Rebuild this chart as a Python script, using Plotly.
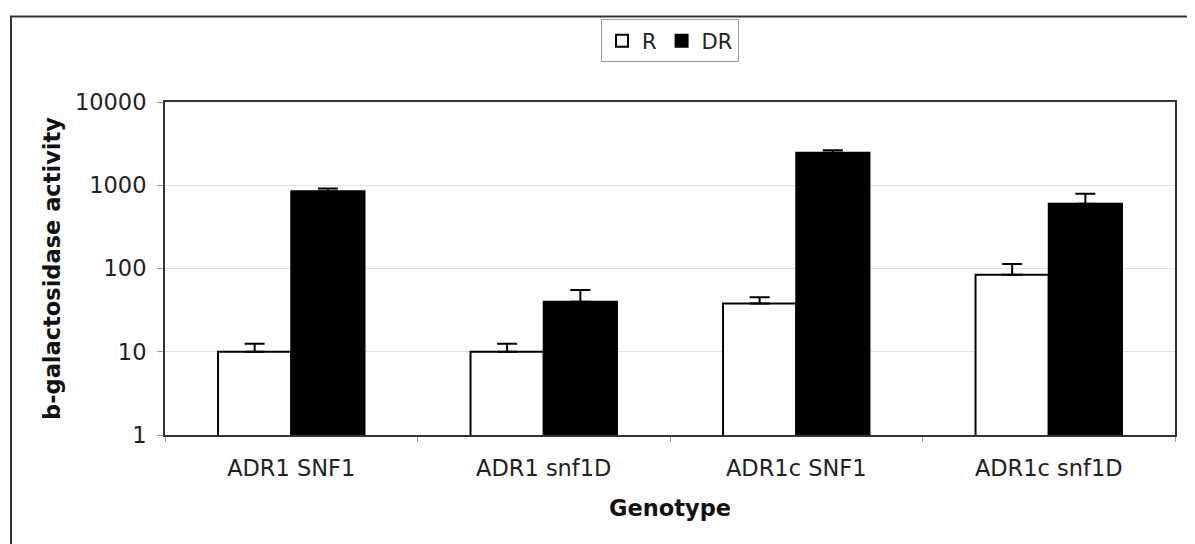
import plotly.graph_objects as go

categories = ["ADR1 SNF1", "ADR1 snf1D", "ADR1c SNF1", "ADR1c snf1D"]
r_values = [10, 10, 38, 84]
r_errors = [2.5, 2.5, 7, 29]
dr_values = [850, 40, 2450, 600]
dr_errors = [65, 15, 180, 190]
y_tickvals = [1, 10, 100, 1000, 10000]
y_ticktext = ["1", "10", "100", "1000", "10000"]

FONT = "DejaVu Sans, Verdana, sans-serif"

fig = go.Figure()
fig.add_trace(go.Bar(
    name="R", x=categories, y=r_values,
    marker=dict(color="white", line=dict(color="black", width=2)),
    error_y=dict(type="data", symmetric=False, array=r_errors,
                 arrayminus=[0] * len(r_errors), color="black", thickness=2, width=10),
))
fig.add_trace(go.Bar(
    name="DR", x=categories, y=dr_values,
    marker=dict(color="black", line=dict(color="black", width=2)),
    error_y=dict(type="data", symmetric=False, array=dr_errors,
                 arrayminus=[0] * len(dr_errors), color="black", thickness=2, width=10),
))

# page has an 8px body offset; work in figure pixel coordinates
OFF = 8
W, H = 1195 - OFF, 544 - OFF
L, T = 165 - OFF, 96 - OFF
R = W - (1175 - OFF)
B = H - (435 - OFF)
pw, ph = W - L - R, H - T - B

def px(x):
    return (x - OFF - L) / pw

def py(y):
    return (H - B - (y - OFF)) / ph

fig.update_layout(
    width=W, height=H,
    margin=dict(l=L, r=R, t=T, b=B),
    paper_bgcolor="white", plot_bgcolor="white",
    barmode="group", bargap=0.42, bargroupgap=0,
    font=dict(family=FONT, size=22.5, color="#222"),
    showlegend=True,
    legend=dict(orientation="h", x=0.5, xanchor="center", y=py(12), yanchor="top",
                bordercolor="#999", borderwidth=1, font=dict(size=21, color="#222"),
                itemwidth=30, tracegroupgap=0),
    xaxis=dict(
        showline=True, linecolor="#333", linewidth=2, mirror=True,
        ticks="outside", tickson="boundaries", ticklen=5, tickcolor="#999",
        tickfont=dict(size=22.5, color="#222"),
        ticklabelstandoff=12,
        title=dict(text="<b>Genotype</b>", font=dict(size=22.5, color="#111"), standoff=20),
    ),
    yaxis=dict(
        type="log", range=[0, 4],
        tickvals=y_tickvals, ticktext=y_ticktext,
        showline=True, linecolor="#333", linewidth=2, mirror=True,
        ticks="outside", ticklen=6, tickcolor="#999",
        showgrid=True, gridcolor="#e2e2e2", gridwidth=1,
        tickfont=dict(size=22.5, color="#222"),
        ticklabelstandoff=6,
        title=dict(text="<b>b-galactosidase activity</b>", font=dict(size=22.5, color="#111"), standoff=8),
        zeroline=False,
    ),
    shapes=[dict(type="rect", xref="paper", yref="paper",
                 x0=px(11), x1=px(1193), y0=py(570), y1=py(9),
                 line=dict(color="#333", width=2), layer="below")],
)

fig.write_html("out.html")
